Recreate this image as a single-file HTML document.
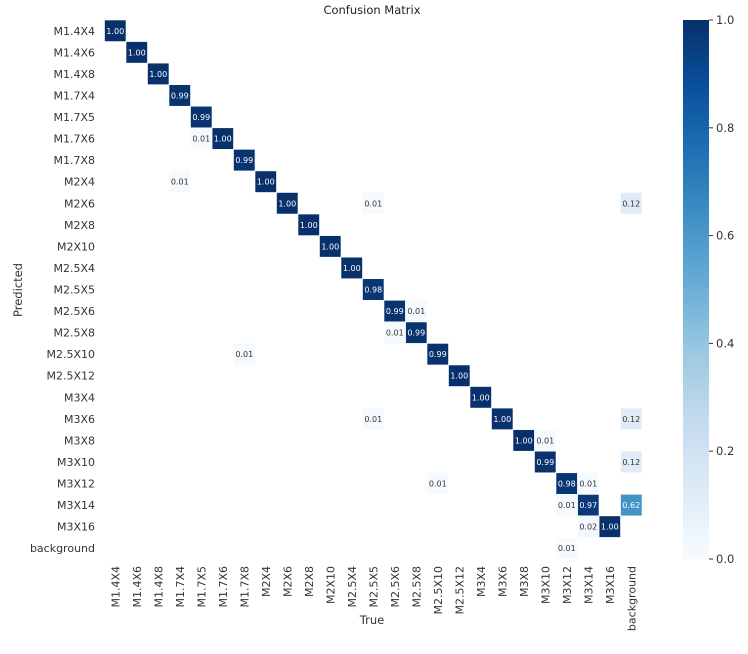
<!DOCTYPE html>
<html><head><meta charset="utf-8"><style>
html,body{margin:0;padding:0;background:#fff;}
svg{display:block;font-family:"DejaVu Sans","Liberation Sans",sans-serif;}
</style></head><body>
<svg id="chart" width="748" height="654">
<defs><linearGradient id="cb" x1="0" y1="1" x2="0" y2="0">
<stop offset="0" stop-color="#f7fbff"/><stop offset="0.125" stop-color="#deebf7"/><stop offset="0.25" stop-color="#c6dbef"/><stop offset="0.375" stop-color="#9ecae1"/><stop offset="0.5" stop-color="#6baed6"/><stop offset="0.625" stop-color="#4292c6"/><stop offset="0.75" stop-color="#2171b5"/><stop offset="0.875" stop-color="#08519c"/><stop offset="1" stop-color="#08306b"/>
</linearGradient></defs>
<text x="372" y="14" text-anchor="middle" font-size="11.5" fill="#222">Confusion Matrix</text>
<g id="cells"></g><g id="ylabels"></g><g id="xlabels"></g><g id="cbar"></g>
<text x="372" y="624" text-anchor="middle" font-size="11.5" fill="#333">True</text>
<text x="22" y="290" text-anchor="middle" font-size="11.5" fill="#333" transform="rotate(-90 22 290)">Predicted</text>
</svg>
<script>
const labels = ["M1.4X4","M1.4X6","M1.4X8","M1.7X4","M1.7X5","M1.7X6","M1.7X8","M2X4","M2X6","M2X8","M2X10","M2.5X4","M2.5X5","M2.5X6","M2.5X8","M2.5X10","M2.5X12","M3X4","M3X6","M3X8","M3X10","M3X12","M3X14","M3X16","background"];
const diagValues = [1.00,1.00,1.00,0.99,0.99,1.00,0.99,1.00,1.00,1.00,1.00,1.00,0.98,0.99,0.99,0.99,1.00,1.00,1.00,1.00,0.99,0.98,0.97,1.00];
const offRows = [5,7,8,8,13,14,15,18,18,19,20,21,21,22,22,23,24];
const offCols = [4,3,12,24,14,13,6,12,24,20,24,15,22,21,24,22,21];
const offValues = [0.01,0.01,0.01,0.12,0.01,0.01,0.01,0.01,0.12,0.01,0.12,0.01,0.01,0.01,0.62,0.02,0.01];
const cbTicks = [0.0,0.2,0.4,0.6,0.8,1.0];

const NS="http://www.w3.org/2000/svg";
const gx0=104.5,gx1=642,gy0=20,gy1=559,n=labels.length;
const cw=(gx1-gx0)/n,ch=(gy1-gy0)/n;
const xs=i=>gx0+i*cw, ys=i=>gy0+i*ch;
const stops=[[0,[247,251,255]],[0.125,[222,235,247]],[0.25,[198,219,239]],[0.375,[158,202,225]],[0.5,[107,174,214]],[0.625,[66,146,198]],[0.75,[33,113,181]],[0.875,[8,81,156]],[1,[8,48,107]]];
function color(v){for(let i=1;i<stops.length;i++){if(v<=stops[i][0]){const a=stops[i-1],b=stops[i],t=(v-a[0])/(b[0]-a[0]);return `rgb(${a[1].map((c,k)=>Math.round(c+(b[1][k]-c)*t)).join(',')})`;}}return 'rgb(8,48,107)';}
function mk(tag,attrs,parent){const e=document.createElementNS(NS,tag);for(const k in attrs)e.setAttribute(k,attrs[k]);parent.appendChild(e);return e;}
const cg=document.getElementById('cells');
function cell(r,c,v){
  const rect=mk('rect',{x:xs(c),y:ys(r),width:cw,height:ch,fill:color(v),stroke:'#fff','stroke-width':0.6},cg);
  
  
  const t=mk('text',{x:xs(c)+cw/2,y:ys(r)+ch/2+3,'text-anchor':'middle','font-size':8,fill:v>0.5?'#fff':'#333'},cg);
  t.textContent=v.toFixed(2);
  
  
}
diagValues.forEach((v,i)=>cell(i,i,v));
offValues.forEach((v,i)=>cell(offRows[i],offCols[i],v));
const yl=document.getElementById('ylabels'),xl=document.getElementById('xlabels');
labels.forEach((l,i)=>{
  const t=mk('text',{x:95,y:ys(i)+ch/2+4,'text-anchor':'end','font-size':11,fill:'#333'},yl);
  t.textContent=l;
  
  
  const px=xs(i)+cw/2+4,py=566;
  const u=mk('text',{x:px,y:py,'text-anchor':'end','font-size':11,fill:'#333',transform:`rotate(-90 ${px} ${py})`},xl);
  u.textContent=l;
  
  
});
const cb=document.getElementById('cbar');
const cbx=683,cbw=26;
const bar=mk('rect',{x:cbx,y:gy0,width:cbw,height:gy1-gy0,fill:'url(#cb)'},cb);


cbTicks.forEach(v=>{
  const y=gy1-v*(gy1-gy0);
  const l=mk('line',{x1:cbx+cbw,x2:cbx+cbw+4,y1:y,y2:y,stroke:'#333','stroke-width':1},cb);
  
  
  const t=mk('text',{x:cbx+cbw+7,y:y+4,'font-size':11.5,fill:'#333'},cb);
  t.textContent=v.toFixed(1);
  
  
});
</script>
</body></html>
